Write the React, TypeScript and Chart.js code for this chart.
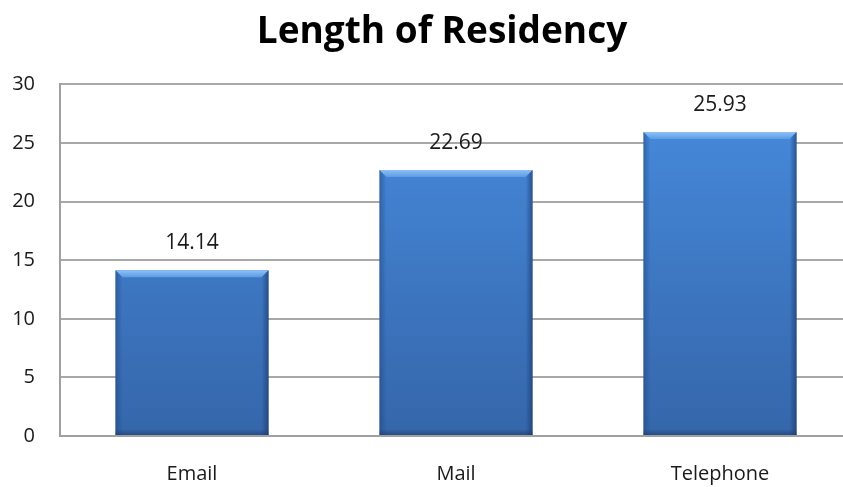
import React, { useEffect, useRef } from "react";
import { Chart, registerables } from "chart.js";

Chart.register(...registerables);

const categories = ["Email", "Mail", "Telephone"];
const values = [14.14, 22.69, 25.93];
const valueLabels = ["14.14", "22.69", "25.93"];
const yTicks = [0, 5, 10, 15, 20, 25, 30];
const chartTitle = "Length of Residency";

const barStyle = {
  id: "barStyle",
  beforeDatasetsDraw(chart: any) {
    const ctx = chart.ctx;
    const meta = chart.getDatasetMeta(0);
    meta.data.forEach((el: any) => {
      const g = ctx.createLinearGradient(0, el.y, 0, el.base);
      g.addColorStop(0, "#4587d8");
      g.addColorStop(1, "#3566aa");
      el.options.backgroundColor = g;
    });
  },
  afterDatasetsDraw(chart: any) {
    const ctx = chart.ctx;
    const meta = chart.getDatasetMeta(0);
    meta.data.forEach((el: any) => {
      const w = el.width;
      const l = el.x - w / 2;
      const r = el.x + w / 2;
      const t = el.y;
      const b = el.base;
      const bev = 7;
      ctx.save();
      const tg = ctx.createLinearGradient(0, t, 0, t + bev);
      tg.addColorStop(0, "#8fc0f5");
      tg.addColorStop(1, "#5a9be6");
      ctx.fillStyle = tg;
      ctx.beginPath();
      ctx.moveTo(l, t);
      ctx.lineTo(r, t);
      ctx.lineTo(r - bev, t + bev);
      ctx.lineTo(l + bev, t + bev);
      ctx.closePath();
      ctx.fill();
      const lg = ctx.createLinearGradient(l, 0, l + bev, 0);
      lg.addColorStop(0, "rgba(30,60,110,0.45)");
      lg.addColorStop(1, "rgba(30,60,110,0)");
      ctx.fillStyle = lg;
      ctx.beginPath();
      ctx.moveTo(l, t);
      ctx.lineTo(l + bev, t + bev);
      ctx.lineTo(l + bev, b);
      ctx.lineTo(l, b);
      ctx.closePath();
      ctx.fill();
      const rg = ctx.createLinearGradient(r, 0, r - bev, 0);
      rg.addColorStop(0, "rgba(25,50,95,0.6)");
      rg.addColorStop(1, "rgba(25,50,95,0)");
      ctx.fillStyle = rg;
      ctx.beginPath();
      ctx.moveTo(r, t);
      ctx.lineTo(r - bev, t + bev);
      ctx.lineTo(r - bev, b);
      ctx.lineTo(r, b);
      ctx.closePath();
      ctx.fill();
      const bg = ctx.createLinearGradient(0, b, 0, b - 6);
      bg.addColorStop(0, "rgba(25,50,95,0.5)");
      bg.addColorStop(1, "rgba(25,50,95,0)");
      ctx.fillStyle = bg;
      ctx.fillRect(l, b - 6, w, 6);
      ctx.restore();
    });
    ctx.save();
    ctx.font = "21px 'Open Sans', sans-serif";
    ctx.fillStyle = "#1a1a1a";
    ctx.textAlign = "center";
    ctx.textBaseline = "middle";
    meta.data.forEach((el: any, i: number) => {
      ctx.fillText(valueLabels[i], el.x, el.y - 27);
    });
    ctx.restore();
  },
  afterDraw(chart: any) {
    const ctx = chart.ctx;
    const yScale = chart.scales.y;
    ctx.save();
    ctx.font = "20px 'Open Sans', sans-serif";
    ctx.fillStyle = "#1a1a1a";
    ctx.textAlign = "right";
    ctx.textBaseline = "middle";
    yTicks.forEach((v) => {
      ctx.fillText(String(v), chart.chartArea.left - 25, yScale.getPixelForValue(v));
    });
    ctx.restore();
  },
};

export default function App() {
  const ref = useRef<HTMLCanvasElement | null>(null);
  useEffect(() => {
    if (!ref.current) return;
    const chart = new Chart(ref.current, {
      type: "bar",
      data: {
        labels: categories,
        datasets: [
          {
            data: values,
            backgroundColor: "#3f7cc8",
            borderWidth: 0,
            categoryPercentage: 1,
            barPercentage: 0.58,
          },
        ],
      },
      options: {
        animation: false,
        responsive: false,
        maintainAspectRatio: false,
        layout: { padding: { left: 32, right: 18, top: 0, bottom: 1 } },
        plugins: {
          legend: { display: false },
          tooltip: { enabled: false },
          title: {
            display: true,
            text: chartTitle,
            font: { family: "'Open Sans', sans-serif", size: 37, weight: "bold" },
            color: "#000",
            padding: { top: 10, bottom: 30 },
          },
        },
        scales: {
          x: {
            grid: { display: false, drawTicks: false },
            border: { display: true, color: "#a0a0a0", width: 2 },
            afterFit: (axis: any) => {
              axis.height = 50;
            },
            ticks: {
              padding: 26,
              color: "#1a1a1a",
              font: { family: "'Open Sans', sans-serif", size: 20 },
            },
          },
          y: {
            min: 0,
            max: 30,
            afterBuildTicks: (axis: any) => {
              axis.ticks = yTicks.map((v) => ({ value: v }));
            },
            afterFit: (axis: any) => {
              axis.width = 28;
            },
            grid: { color: "#a8a8a8", lineWidth: 2, drawTicks: false },
            border: { display: true, color: "#a0a0a0", width: 2 },
            ticks: { display: false },
          },
        },
      },
      plugins: [barStyle],
    });
    return () => chart.destroy();
  }, []);
  return (
    <div style={{ position: "fixed", left: 0, top: 0, width: 843, height: 487, overflow: "hidden", background: "#fff" }}>
      <canvas ref={ref} width={870} height={487} style={{ display: "block" }} />
    </div>
  );
}
